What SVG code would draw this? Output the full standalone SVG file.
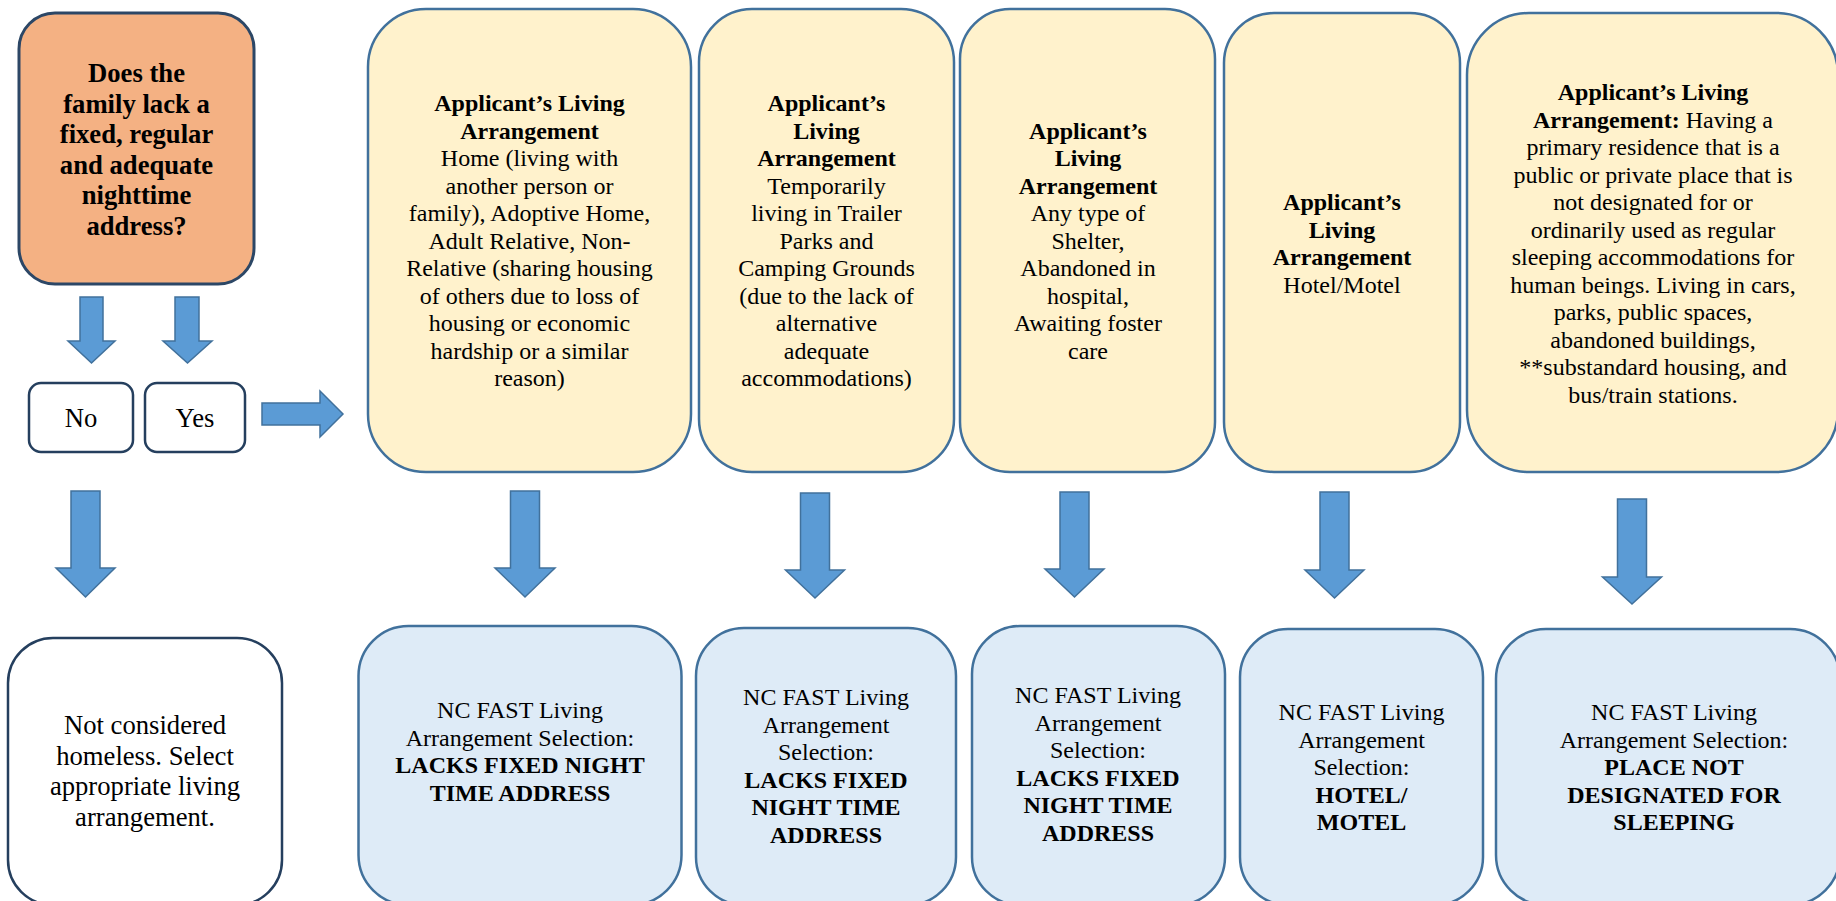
<svg xmlns="http://www.w3.org/2000/svg" width="1836" height="901" viewBox="0 0 1836 901">
<style>
.t{font-family:"Liberation Serif","Times New Roman",serif;fill:#000;text-anchor:middle}
.s24{font-size:24px}
.s27{font-size:26.67px}
.b{font-weight:bold}
.q{fill:#F4B183;stroke:#2C4766;stroke-width:3}
.w{fill:#FFFFFF;stroke:#253F5E;stroke-width:2.5}
.y{fill:#FFF2CC;stroke:#41719C;stroke-width:2.5}
.bl{fill:#DEEBF7;stroke:#41719C;stroke-width:2.5}
.ar{fill:#5B9BD5;stroke:#41719C;stroke-width:1.5}
</style>
<rect width="1836" height="901" fill="#FFFFFF"/>
<g id="connectors">
<polygon class="ar" points="80,297 103,297 103,341 115,341 91.5,363 68,341 80,341"/>
<polygon class="ar" points="175,297 199,297 199,341 212,341 187.5,363 163,341 175,341"/>
<polygon class="ar" points="262,403 320,403 320,391 343,414 320,437 320,425 262,425"/>
<polygon class="ar" points="71,491 100,491 100,568 115,568 85.5,597 56,568 71,568"/>
<polygon class="ar" points="510.5,491 539.5,491 539.5,568 555,568 525,597 495,568 510.5,568"/>
<polygon class="ar" points="800.5,493 829.5,493 829.5,570 844.5,570 815,598 785.5,570 800.5,570"/>
<polygon class="ar" points="1060,492 1089,492 1089,569 1104,569 1074.5,597 1045,569 1060,569"/>
<polygon class="ar" points="1320,492 1349,492 1349,570 1364,570 1334.5,598 1305,570 1320,570"/>
<polygon class="ar" points="1617.5,499 1646.5,499 1646.5,577 1661.5,577 1632,604 1602.5,577 1617.5,577"/>
</g>
<g id="question">
<rect class="q" x="19" y="13" width="235" height="271" rx="36"/>
<text class="t s27 b"><tspan x="136.5" y="82">Does the</tspan><tspan x="136.5" y="112.5">family lack a</tspan><tspan x="136.5" y="143">fixed, regular</tspan><tspan x="136.5" y="173.5">and adequate</tspan><tspan x="136.5" y="204">nighttime</tspan><tspan x="136.5" y="234.5">address?</tspan></text>
</g>
<g id="no">
<rect class="w" x="29" y="383" width="104" height="69" rx="12"/>
<text class="t s27" x="81" y="427">No</text>
</g>
<g id="yes">
<rect class="w" x="145" y="383" width="100" height="69" rx="12"/>
<text class="t s27" x="195" y="427">Yes</text>
</g>
<g id="arr1">
<rect class="y" x="368" y="9" width="323" height="463" rx="58"/>
<text class="t s24"><tspan class="b" x="529.5" y="111">Applicant’s Living</tspan><tspan class="b" x="529.5" y="138.5">Arrangement</tspan><tspan x="529.5" y="166">Home (living with</tspan><tspan x="529.5" y="193.5">another person or</tspan><tspan x="529.5" y="221">family), Adoptive Home,</tspan><tspan x="529.5" y="248.5">Adult Relative, Non-</tspan><tspan x="529.5" y="276">Relative (sharing housing</tspan><tspan x="529.5" y="303.5">of others due to loss of</tspan><tspan x="529.5" y="331">housing or economic</tspan><tspan x="529.5" y="358.5">hardship or a similar</tspan><tspan x="529.5" y="386">reason)</tspan></text>
</g>
<g id="arr2">
<rect class="y" x="699" y="9" width="255" height="463" rx="53"/>
<text class="t s24"><tspan class="b" x="826.5" y="111">Applicant’s</tspan><tspan class="b" x="826.5" y="138.5">Living</tspan><tspan class="b" x="826.5" y="166">Arrangement</tspan><tspan x="826.5" y="193.5">Temporarily</tspan><tspan x="826.5" y="221">living in Trailer</tspan><tspan x="826.5" y="248.5">Parks and</tspan><tspan x="826.5" y="276">Camping Grounds</tspan><tspan x="826.5" y="303.5">(due to the lack of</tspan><tspan x="826.5" y="331">alternative</tspan><tspan x="826.5" y="358.5">adequate</tspan><tspan x="826.5" y="386">accommodations)</tspan></text>
</g>
<g id="arr3">
<rect class="y" x="960" y="9" width="255" height="463" rx="50"/>
<text class="t s24"><tspan class="b" x="1088" y="138.5">Applicant’s</tspan><tspan class="b" x="1088" y="166">Living</tspan><tspan class="b" x="1088" y="193.5">Arrangement</tspan><tspan x="1088" y="221">Any type of</tspan><tspan x="1088" y="248.5">Shelter,</tspan><tspan x="1088" y="276">Abandoned in</tspan><tspan x="1088" y="303.5">hospital,</tspan><tspan x="1088" y="331">Awaiting foster</tspan><tspan x="1088" y="358.5">care</tspan></text>
</g>
<g id="arr4">
<rect class="y" x="1224" y="13" width="236" height="459" rx="50"/>
<text class="t s24"><tspan class="b" x="1342" y="210">Applicant’s</tspan><tspan class="b" x="1342" y="237.5">Living</tspan><tspan class="b" x="1342" y="265">Arrangement</tspan><tspan x="1342" y="292.5">Hotel/Motel</tspan></text>
</g>
<g id="arr5">
<rect class="y" x="1467" y="13" width="371" height="459" rx="62"/>
<text class="t s24"><tspan class="b" x="1653" y="100">Applicant’s Living</tspan><tspan x="1653" y="127.5"><tspan class="b">Arrangement:</tspan> Having a</tspan><tspan x="1653" y="155">primary residence that is a</tspan><tspan x="1653" y="182.5">public or private place that is</tspan><tspan x="1653" y="210">not designated for or</tspan><tspan x="1653" y="237.5">ordinarily used as regular</tspan><tspan x="1653" y="265">sleeping accommodations for</tspan><tspan x="1653" y="292.5">human beings. Living in cars,</tspan><tspan x="1653" y="320">parks, public spaces,</tspan><tspan x="1653" y="347.5">abandoned buildings,</tspan><tspan x="1653" y="375">**substandard housing, and</tspan><tspan x="1653" y="402.5">bus/train stations.</tspan></text>
</g>
<g id="not-homeless">
<rect class="w" x="8" y="638" width="274" height="267" rx="45"/>
<text class="t s27"><tspan x="145" y="734">Not considered</tspan><tspan x="145" y="764.5">homeless. Select</tspan><tspan x="145" y="795">appropriate living</tspan><tspan x="145" y="825.5">arrangement.</tspan></text>
</g>
<g id="sel1">
<rect class="bl" x="358.5" y="626" width="323" height="279" rx="50"/>
<text class="t s24"><tspan x="520" y="718">NC FAST Living</tspan><tspan x="520" y="745.5">Arrangement Selection:</tspan><tspan class="b" x="520" y="773">LACKS FIXED NIGHT</tspan><tspan class="b" x="520" y="800.5">TIME ADDRESS</tspan></text>
</g>
<g id="sel2">
<rect class="bl" x="696" y="628" width="260" height="277" rx="48"/>
<text class="t s24"><tspan x="826" y="705">NC FAST Living</tspan><tspan x="826" y="732.5">Arrangement</tspan><tspan x="826" y="760">Selection:</tspan><tspan class="b" x="826" y="787.5">LACKS FIXED</tspan><tspan class="b" x="826" y="815">NIGHT TIME</tspan><tspan class="b" x="826" y="842.5">ADDRESS</tspan></text>
</g>
<g id="sel3">
<rect class="bl" x="972" y="626" width="253" height="279" rx="48"/>
<text class="t s24"><tspan x="1098" y="703">NC FAST Living</tspan><tspan x="1098" y="730.5">Arrangement</tspan><tspan x="1098" y="758">Selection:</tspan><tspan class="b" x="1098" y="785.5">LACKS FIXED</tspan><tspan class="b" x="1098" y="813">NIGHT TIME</tspan><tspan class="b" x="1098" y="840.5">ADDRESS</tspan></text>
</g>
<g id="sel4">
<rect class="bl" x="1240" y="629" width="243" height="276" rx="48"/>
<text class="t s24"><tspan x="1361.5" y="720">NC FAST Living</tspan><tspan x="1361.5" y="747.5">Arrangement</tspan><tspan x="1361.5" y="775">Selection:</tspan><tspan class="b" x="1361.5" y="802.5">HOTEL/</tspan><tspan class="b" x="1361.5" y="830">MOTEL</tspan></text>
</g>
<g id="sel5">
<rect class="bl" x="1496" y="629" width="344" height="276" rx="50"/>
<text class="t s24"><tspan x="1674" y="720">NC FAST Living</tspan><tspan x="1674" y="747.5">Arrangement Selection:</tspan><tspan class="b" x="1674" y="775">PLACE NOT</tspan><tspan class="b" x="1674" y="802.5">DESIGNATED FOR</tspan><tspan class="b" x="1674" y="830">SLEEPING</tspan></text>
</g>
</svg>
